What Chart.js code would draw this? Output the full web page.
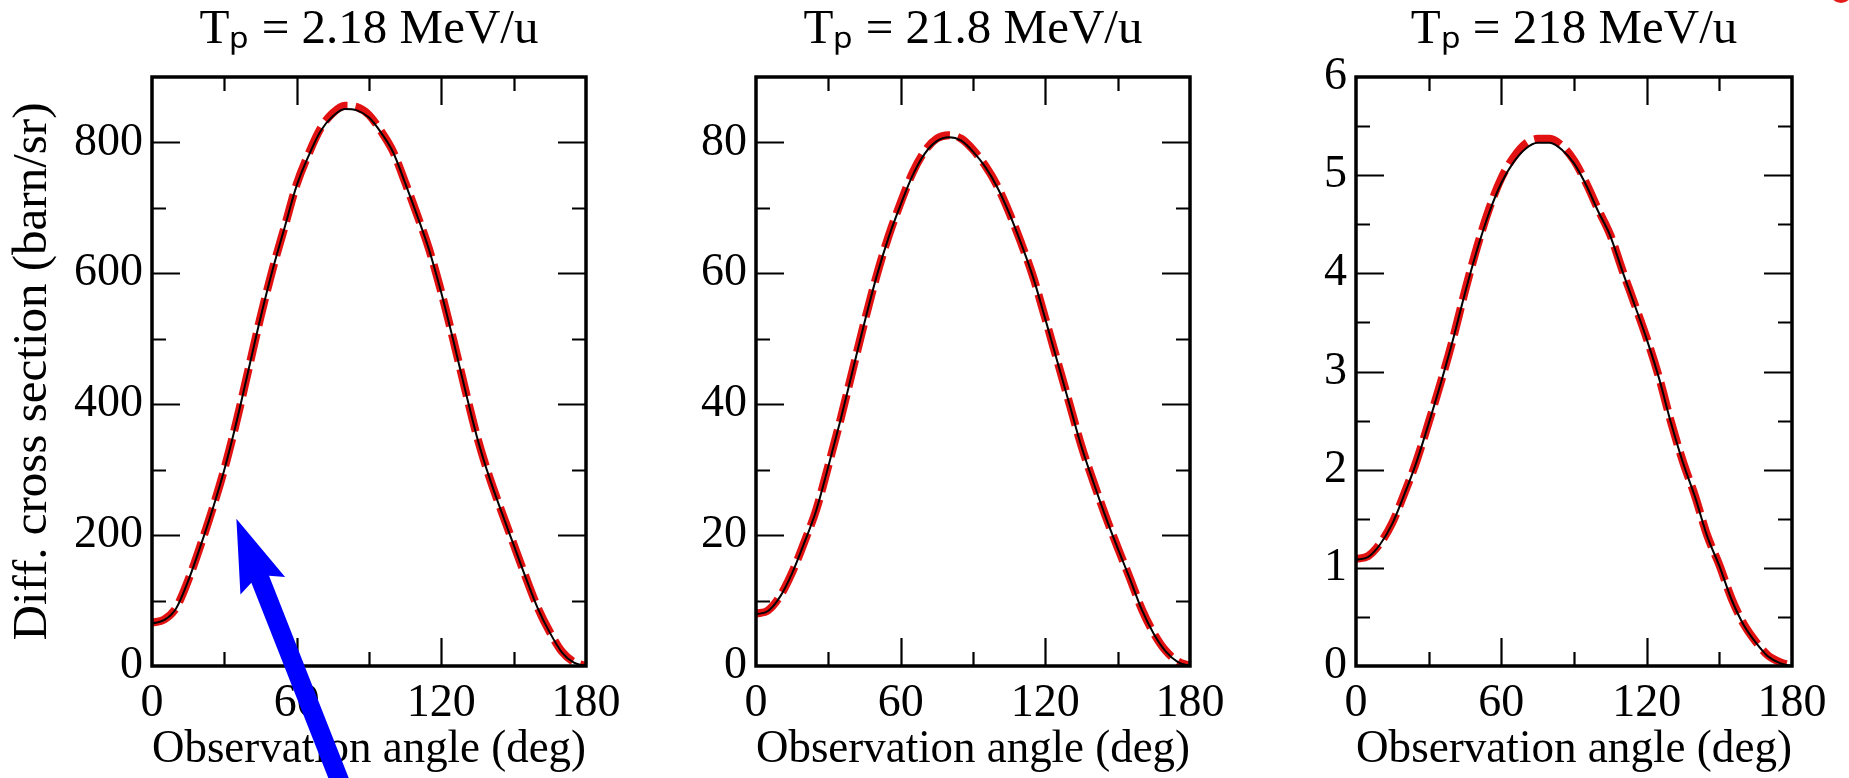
<!DOCTYPE html>
<html>
<head>
<meta charset="utf-8">
<title>Differential cross section</title>
<script src="https://cdn.jsdelivr.net/npm/chart.js@4.4.1/dist/chart.umd.min.js"></script>
<style>
  html, body { margin: 0; padding: 0; background: #fff; }
  body { width: 1849px; height: 778px; position: relative; overflow: hidden; }
  canvas { position: absolute; top: 0; }
</style>
</head>
<body>
<canvas id="c1" width="640" height="778" style="left:0px"></canvas>
<canvas id="c2" width="640" height="778" style="left:600px"></canvas>
<canvas id="c3" width="640" height="778" style="left:1209px"></canvas>

<script>
// observation angles (deg)
const angles = [0, 5, 10, 15, 20, 25, 30, 35, 40, 45, 50, 55, 60, 65, 70, 75, 80, 85, 90,
  95, 100, 105, 110, 115, 120, 125, 130, 135, 140, 145, 150, 155, 160, 165, 170, 175, 180];

// Tp = 2.18 MeV/u
const exact1 = [65, 70, 88, 130, 182, 238, 300, 372, 452, 532, 605, 670, 734, 780, 818, 840, 851, 849, 838,
  815, 785, 738, 688, 635, 570, 497, 420, 347, 287, 235, 185, 135, 88, 51, 21, 5, 0];
const approx1 = [66, 71, 89, 131, 183, 239, 301, 373, 453, 533, 606, 671, 736, 783, 822, 845, 856, 854, 842,
  817, 786, 739, 689, 636, 571, 498, 421, 348, 288, 236, 186, 136, 89, 52, 22, 6, 0];

// Tp = 21.8 MeV/u
const exact2 = [7.9, 8.4, 10.6, 14.2, 18.8, 23.8, 30.5, 37.5, 45, 52.5, 59.5, 65.5, 70.5, 75, 78.3, 80.2, 80.8, 80.3, 78.6,
  76.3, 73.2, 69.2, 64.5, 59.3, 53, 46.5, 40, 33.5, 28, 22.8, 18, 13.4, 8.6, 4.9, 2.2, 0.6, 0];
const approx2 = [8.0, 8.5, 10.7, 14.3, 18.9, 23.9, 30.6, 37.6, 45.1, 52.6, 59.6, 65.7, 70.8, 75.4, 78.7, 80.6, 81.1, 80.6, 78.9,
  76.5, 73.4, 69.3, 64.6, 59.4, 53.1, 46.6, 40.1, 33.6, 28.1, 22.9, 18.1, 13.5, 8.7, 5.0, 2.3, 0.7, 0];

// Tp = 218 MeV/u
const exact3 = [1.08, 1.11, 1.24, 1.45, 1.75, 2.08, 2.47, 2.88, 3.32, 3.80, 4.24, 4.62, 4.92, 5.13, 5.27, 5.33, 5.33, 5.26, 5.12,
  4.90, 4.63, 4.38, 4.02, 3.68, 3.33, 2.94, 2.48, 2.07, 1.72, 1.32, 1.02, 0.68, 0.42, 0.24, 0.10, 0.03, 0];
const approx3 = [1.09, 1.12, 1.25, 1.46, 1.76, 2.09, 2.48, 2.89, 3.33, 3.82, 4.27, 4.66, 4.97, 5.18, 5.32, 5.37, 5.37, 5.30, 5.15,
  4.92, 4.65, 4.39, 4.03, 3.69, 3.34, 2.95, 2.49, 2.08, 1.73, 1.33, 1.03, 0.69, 0.43, 0.25, 0.11, 0.04, 0];

const titles = ['Tₚ = 2.18 MeV/u', 'Tₚ = 21.8 MeV/u', 'Tₚ = 218 MeV/u'];
const xTickLabels = [0, 60, 120, 180];
const yTickLabels1 = [0, 200, 400, 600, 800];
const yTickLabels2 = [0, 20, 40, 60, 80];
const yTickLabels3 = [0, 1, 2, 3, 4, 5, 6];
const yMax = [900, 90, 6];
const yStep = [100, 10, 0.5];

// arrow annotation in panel 1, tip given in data units
const arrowTip = [35, 225];

const FONT = "'Liberation Serif', 'Times New Roman', serif";

function near(list, v) {
  return list.some(t => Math.abs(t - v) < 1e-6);
}

function points(ys) {
  return angles.map((a, i) => ({ x: a, y: ys[i] }));
}

// inward ticks on all four sides plus the frame
const frameTicks = {
  id: 'frameTicks',
  afterDatasetsDraw(chart, args, opts) {
    const { ctx, chartArea: a, scales: { x, y } } = chart;
    ctx.save();
    ctx.strokeStyle = '#000';
    ctx.lineWidth = 2.2;
    ctx.beginPath();
    x.ticks.forEach(t => {
      if (t.value <= x.min || t.value >= x.max) return;
      const px = Math.round(x.getPixelForValue(t.value)) + 0.5;
      const len = near(xTickLabels, t.value) ? 28 : 14;
      ctx.moveTo(px, a.bottom); ctx.lineTo(px, a.bottom - len);
      ctx.moveTo(px, a.top); ctx.lineTo(px, a.top + len);
    });
    y.ticks.forEach(t => {
      if (t.value <= y.min || t.value >= y.max) return;
      const py = Math.round(y.getPixelForValue(t.value)) + 0.5;
      const len = near(opts.major, t.value) ? 28 : 14;
      ctx.moveTo(a.left, py); ctx.lineTo(a.left + len, py);
      ctx.moveTo(a.right, py); ctx.lineTo(a.right - len, py);
    });
    ctx.stroke();
    ctx.lineWidth = 3.5;
    ctx.strokeRect(a.left, a.top, a.right - a.left, a.bottom - a.top);
    ctx.restore();
  }
};

const arrow = {
  id: 'arrow',
  afterDraw(chart, args, opts) {
    if (!opts.tip) return;
    const { ctx, scales: { x, y } } = chart;
    const tx = x.getPixelForValue(opts.tip[0]);
    const ty = y.getPixelForValue(opts.tip[1]);
    const ang = 21.5 * Math.PI / 180;
    const d = [Math.sin(ang), Math.cos(ang)];
    const n = [d[1], -d[0]];
    const headLen = 72, headHalf = 24, shaftHalf = 9.5, shaftLen = 320;
    const p = (along, side) => [tx + d[0] * along + n[0] * side, ty + d[1] * along + n[1] * side];
    const pts = [p(0, 0), p(headLen, headHalf), p(headLen - 7, shaftHalf), p(shaftLen, shaftHalf),
      p(shaftLen, -shaftHalf), p(headLen - 7, -shaftHalf), p(headLen, -headHalf)];
    ctx.save();
    ctx.fillStyle = '#0000ff';
    ctx.beginPath();
    pts.forEach((q, i) => i ? ctx.lineTo(q[0], q[1]) : ctx.moveTo(q[0], q[1]));
    ctx.closePath();
    ctx.fill();
    ctx.restore();
  }
};

// small red mark cut off at the top right corner of the slide
const cornerMark = {
  id: 'cornerMark',
  afterDraw(chart, args, opts) {
    if (!opts.show) return;
    const { ctx, width } = chart;
    ctx.save();
    ctx.strokeStyle = '#e31b1b';
    ctx.lineWidth = 4;
    ctx.beginPath();
    ctx.ellipse(width - 8, -16, 12, 17, 0, 0, Math.PI * 2);
    ctx.stroke();
    ctx.restore();
  }
};

function makePanel(id, i, exact, approx, yLabels, opt) {
  const tickFont = { family: FONT, size: 46 };
  new Chart(document.getElementById(id), {
    type: 'line',
    data: {
      datasets: [
        {
          data: points(exact),
          borderColor: '#000',
          borderWidth: 2,
          pointRadius: 0,
          cubicInterpolationMode: 'monotone',
          order: 1
        },
        {
          data: points(approx),
          borderColor: '#e31212',
          borderWidth: 8,
          borderDash: [28, 8],
          borderCapStyle: 'butt',
          pointRadius: 0,
          cubicInterpolationMode: 'monotone',
          order: 2
        }
      ]
    },
    options: {
      responsive: false,
      animation: false,
      events: [],
      layout: { padding: { left: 0, right: 640 - opt.right, top: 0, bottom: 0 } },
      plugins: {
        legend: { display: false },
        tooltip: { enabled: false },
        title: {
          display: true,
          text: titles[i],
          fullSize: false,
          color: '#000',
          font: { family: FONT, size: 49, weight: 'normal' },
          padding: { top: 1, bottom: 17.2 }
        },
        frameTicks: { major: yLabels },
        arrow: { tip: opt.arrow },
        cornerMark: { show: !!opt.corner }
      },
      scales: {
        x: {
          type: 'linear',
          min: 0,
          max: 180,
          grid: { display: false, drawTicks: false, tickLength: 0 },
          border: { display: false },
          ticks: {
            stepSize: 30,
            autoSkip: false,
            maxRotation: 0,
            padding: 10,
            color: '#000',
            font: tickFont,
            callback: v => near(xTickLabels, v) ? String(v) : ''
          },
          title: {
            display: true,
            text: 'Observation angle (deg)',
            color: '#000',
            font: { family: FONT, size: 47 },
            padding: 0
          },
          afterFit: s => { s.height = 778 - 666; }
        },
        y: {
          type: 'linear',
          min: 0,
          max: yMax[i],
          grid: { display: false, drawTicks: false, tickLength: 0 },
          border: { display: false },
          ticks: {
            stepSize: yStep[i],
            autoSkip: false,
            padding: 9,
            color: '#000',
            font: tickFont,
            callback: v => near(yLabels, v) ? String(v) : ''
          },
          title: {
            display: !!opt.yTitle,
            text: 'Diff. cross section (barn/sr)',
            color: '#000',
            font: { family: FONT, size: 49 },
            padding: { top: 4, bottom: 0 }
          },
          afterFit: s => { s.width = opt.left; }
        }
      }
    },
    plugins: [frameTicks, arrow, cornerMark]
  });
}

makePanel('c1', 0, exact1, approx1, yTickLabels1, { left: 152, right: 586, yTitle: true, arrow: arrowTip });
makePanel('c2', 1, exact2, approx2, yTickLabels2, { left: 156, right: 590 });
makePanel('c3', 2, exact3, approx3, yTickLabels3, { left: 147, right: 583, corner: true });
</script>
</body>
</html>
